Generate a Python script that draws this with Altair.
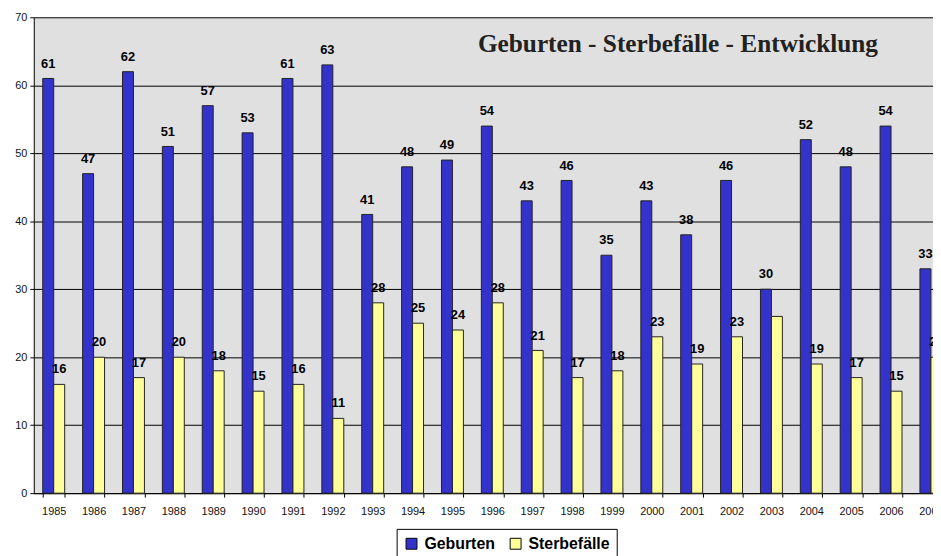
import altair as alt
import pandas as pd

years = [str(y) for y in range(1985, 2008)]
geburten = [61, 47, 62, 51, 57, 53, 61, 63, 41, 48, 49, 54, 43, 46, 35, 43, 38, 46, 30, 52, 48, 54, 33]
sterbefaelle = [16, 20, 17, 20, 18, 15, 16, 11, 28, 25, 24, 28, 21, 17, 18, 23, 19, 23, 26, 19, 17, 15, 20]
series = ["Geburten", "Sterbefälle"]
colors = ["#3333CC", "#FFFF99"]
unlabeled = [("2003", "Sterbefälle")]

rows = []
for i, y in enumerate(years):
    for s, vals in zip(series, [geburten, sterbefaelle]):
        v = vals[i]
        lab = "" if (y, s) in unlabeled else str(v)
        rows.append({"year": y, "series": s, "value": v, "label": lab})
df = pd.DataFrame(rows)

x_enc = alt.X("year:N", sort=years,
              scale=alt.Scale(paddingInner=0.45, paddingOuter=0.225),
              axis=alt.Axis(title=None, labelAngle=0, tickBand="extent", ticks=True,
                            tickSize=4, tickColor="black", domainColor="black",
                            labelFont="Liberation Sans", labelFontSize=11,
                            labelColor="#111111", grid=False, labelPadding=9))
xoff = alt.XOffset("series:N", sort=series, scale=alt.Scale(paddingInner=0, paddingOuter=0))
y_enc = alt.Y("value:Q", scale=alt.Scale(domain=[0, 70], nice=False),
              axis=alt.Axis(title=None, values=list(range(0, 71, 10)), grid=True,
                            gridColor="black", gridWidth=1, tickSize=4, tickColor="black",
                            domainColor="black", labelFont="Liberation Sans",
                            labelFontSize=11, labelColor="#111111", labelPadding=3))

base = alt.Chart(df)
bars = base.mark_bar(stroke="#222222", strokeWidth=1).encode(
    x=x_enc, xOffset=xoff, y=y_enc,
    color=alt.Color("series:N", sort=series,
                    scale=alt.Scale(domain=series, range=colors),
                    legend=alt.Legend(title=None, orient="none", legendX=366, legendY=516,
                                      direction="horizontal", symbolType="square",
                                      symbolSize=121, symbolStrokeColor="black",
                                      symbolStrokeWidth=1, labelFont="Liberation Sans",
                                      labelFontSize=16, labelFontWeight="bold",
                                      labelColor="black", strokeColor="black",
                                      fillColor="white", padding=7, columnPadding=12,
                                      labelOffset=5)),
)
labels = base.mark_text(font="Liberation Sans", fontSize=13, fontWeight="bold",
                        dy=-11, baseline="alphabetic", align="center", color="black").encode(
    x=alt.X("year:N", sort=years), xOffset=alt.XOffset("series:N", sort=series),
    y="value:Q", text="label:N")

chart = alt.layer(bars, labels).properties(
    width=925, height=480,
    title=alt.TitleParams(text="Geburten - Sterbefälle - Entwicklung",
                          font="Liberation Serif", fontSize=25.5, fontWeight="bold",
                          color="#222222", anchor="start", frame="group",
                          dx=448, dy=67, offset=0, baseline="alphabetic"),
    autosize=alt.AutoSizeParams(type="none"),
    padding={"left": 26, "top": 7, "right": -18, "bottom": 61},
).configure_view(fill="#E0E0E0", stroke="transparent")

chart.save("out.html", embed_options={"renderer": "svg", "actions": False})
